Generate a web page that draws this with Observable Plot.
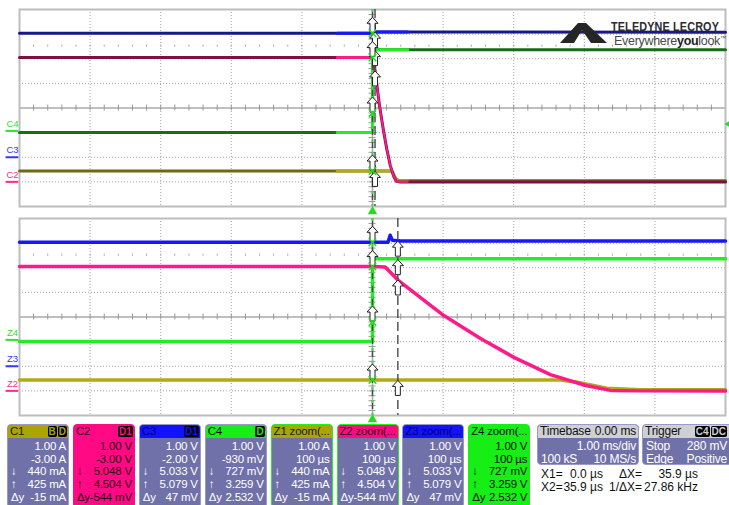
<!DOCTYPE html>
<html><head><meta charset="utf-8">
<script src="https://cdn.jsdelivr.net/npm/d3@7"></script>
<script src="https://cdn.jsdelivr.net/npm/@observablehq/plot@0.6"></script>
<style>
html,body{margin:0;padding:0;background:#fff;}
#root{position:relative;width:729px;height:505px;overflow:hidden;font-family:"Liberation Sans",Arial,sans-serif;}
.pl{position:absolute;left:0;}
.box{position:absolute;top:424px;width:62px;height:84px;box-sizing:border-box;border:1px solid #9a9ac6;border-radius:4px;background:#7171aa;color:#fff;font-size:11.5px;letter-spacing:-0.2px;overflow:hidden;}
.hdr{height:13px;line-height:13px;padding:0 0 0 2px;color:#111;white-space:nowrap;position:relative;overflow:hidden;border-radius:3px 3px 0 0;font-size:11.5px;}
.badges{position:absolute;right:1px;top:1px;display:flex;gap:1px;}
.bd{background:#000;border-radius:2px;font-size:10px;font-weight:bold;line-height:11px;height:11px;padding:0 1px;letter-spacing:0;}
.rows{margin-top:2px;}
.row{height:12.7px;line-height:12.7px;position:relative;text-align:right;padding-right:2px;white-space:nowrap;}
.row .l{position:absolute;left:3px;top:0;}
.txt{position:absolute;font-size:12px;color:#111;white-space:nowrap;line-height:13px;}
</style></head>
<body><div id="root"></div>
<script>
// ---------------- data ----------------
const channelNames = ["C1", "C2", "C3", "C4"];
const zoomNames = ["Z1", "Z2", "Z3", "Z4"];
const channelOffset = [-3, -3, -2, -0.93];   // A or V
const channelScale = [1, 1, 1, 1];          // per division
const mainTimePerDiv = 1000;                // µs per division (1.00 ms/div)
const zoomTimePerDiv = 100;                 // µs per division

// C1 (current, A)
const c1Time = [-5000, -500, 0, 266, 290, 313, 332, 380, 500, 5000];
const c1Value = [0.44, 0.44, 0.44, 0.44, 0.35, 0.22, 0.11, 0.05, 0.05, 0.05];
// C2 (V)
const c2Time = [-5000, -500, 0, 18, 36, 101, 153, 201, 252, 302, 337, 380, 500, 5000];
const c2Value = [5.05, 5.05, 5.05, 5.03, 4.50, 3.06, 2.13, 1.35, 0.66, 0.22, 0.02, 0.0, 0.0, 0.0];
// C3 (V)
const c3Time = [-5000, -500, 0, 22, 25, 28, 40, 500, 5000];
const c3Value = [5.033, 5.033, 5.033, 5.04, 5.32, 5.12, 5.09, 5.09, 5.08];
// C4 (V)
const c4Time = [-5000, -500, 0, 0, 500, 5000];
const c4Value = [-0.066, -0.066, -0.066, 3.30, 3.30, 3.30];

const cursorTimes = [0, 35.9];                         // µs
const cursorX1Values = [0.44, 5.048, 5.033, 0.727];
const cursorX2Values = [0.425, 4.504, 5.079, 3.259];
const triggerLevel = 0.28;                             // V on C4

// info boxes
const boxTitles = ["C1", "C2", "C3", "C4", "Z1 zoom(...", "Z2 zoom(...", "Z3 zoom(...", "Z4 zoom(..."];
const boxBadges = [["B", "D"], ["D1"], ["D1"], ["D"], [], [], [], []];
const boxScale = ["1.00 A", "1.00 V", "1.00 V", "1.00 V", "1.00 A", "1.00 V", "1.00 V", "1.00 V"];
const boxSecond = ["-3.00 A", "-3.00 V", "-2.00 V", "-930 mV", "100 µs", "100 µs", "100 µs", "100 µs"];
const boxDown = ["440 mA", "5.048 V", "5.033 V", "727 mV", "440 mA", "5.048 V", "5.033 V", "727 mV"];
const boxUp = ["425 mA", "4.504 V", "5.079 V", "3.259 V", "425 mA", "4.504 V", "5.079 V", "3.259 V"];
const boxDelta = ["-15 mA", "-544 mV", "47 mV", "2.532 V", "-15 mA", "-544 mV", "47 mV", "2.532 V"];
const timebaseTexts = ["Timebase", "0.00 ms", "1.00 ms/div", "100 kS", "10 MS/s"];
const triggerTexts = ["Trigger", "C4", "DC", "Stop", "280 mV", "Edge", "Positive"];
const cursorTexts = [["X1=", "0.0 µs", "ΔX=", "35.9 µs"], ["X2=", "35.9 µs", "1/ΔX=", "27.86 kHz"]];

// ---------------- styles ----------------
const darkColors = ["#6e6a12", "#7e1042", "#18188c", "#137013"];
const brightColors = ["#b2aa16", "#ff1a8a", "#1717ff", "#22ee22"];
const labelColors = ["#b2aa16", "#ff2a90", "#3535ff", "#33dd33"];
const drawOrder = [0, 3, 2, 1];

const seriesTime = [c1Time, c2Time, c3Time, c4Time];
const seriesValue = [c1Value, c2Value, c3Value, c4Value];
const toDiv = (v, i) => (v + channelOffset[i]) / channelScale[i];

const upArrow = {draw(ctx) {
  ctx.moveTo(0, -8); ctx.lineTo(5.5, -2); ctx.lineTo(2.5, -2); ctx.lineTo(2.5, 7);
  ctx.lineTo(-2.5, 7); ctx.lineTo(-2.5, -2); ctx.lineTo(-5.5, -2); ctx.closePath();
}};
const leftTri = {draw(ctx) {
  ctx.moveTo(-3, 0); ctx.lineTo(2, -3); ctx.lineTo(2, 3); ctx.closePath();
}};

function panel(isMain) {
  const perDiv = isMain ? mainTimePerDiv : zoomTimePerDiv;
  const names = isMain ? channelNames : zoomNames;
  const gridX = d3.range(-4, 5).filter(d => d !== 0);
  const gridY = d3.range(-3, 4).filter(d => d !== 0);
  const minorX = d3.range(-25, 26).map(k => k / 5);
  const minorY = d3.range(-20, 21).map(k => k / 5);
  const marks = [
    Plot.ruleX(gridX, {stroke: "#a4a4a4", strokeDasharray: "1,2", strokeWidth: 1}),
    Plot.ruleY(gridY, {stroke: "#a4a4a4", strokeDasharray: "1,2", strokeWidth: 1}),
    Plot.ruleX([0], {stroke: "#aaa", strokeWidth: 1.5}),
    Plot.ruleY([0], {stroke: "#aaa", strokeWidth: 1.5}),
    Plot.ruleX(minorX, {x: d => d, y1: () => -0.12, y2: () => 0.12, stroke: "#999"}),
    Plot.ruleY(minorY, {y: d => d, x1: () => -0.05, x2: () => 0.05, stroke: "#999"}),
    Plot.ruleX(minorX, {x: d => d, y1: () => 2.46, y2: () => 2.56, stroke: "#b4b4b4"}),
    Plot.frame({stroke: "#bdbdbd", strokeWidth: 2})
  ];
  for (const i of drawOrder) {
    const rows = seriesTime[i].map((t, k) => ({t, x: t / perDiv, y: toDiv(seriesValue[i][k], i)}));
    const inWin = rows.filter(r => Math.abs(r.t) <= 5 * zoomTimePerDiv);
    if (isMain) {
      marks.push(Plot.line(rows, {x: "x", y: "y", stroke: darkColors[i], strokeWidth: 3}));
      marks.push(Plot.line(inWin.filter(r => r.t <= 20), {x: "x", y: "y", stroke: brightColors[i], strokeWidth: 3}));
      marks.push(Plot.line(inWin.filter(r => r.t >= 0), {x: "x", y: "y", stroke: brightColors[i], strokeWidth: i === 1 ? 1.8 : 3}));
    } else {
      marks.push(Plot.line(inWin, {x: "x", y: "y", stroke: brightColors[i], strokeWidth: 3.5}));
    }
  }
  // channel ground labels
  for (const i of [3, 2, 1]) {
    const lv = toDiv(0, i);
    marks.push(Plot.ruleY([lv], {x1: () => -5.19, x2: () => -5.01, stroke: labelColors[i], strokeWidth: 2}));
    marks.push(Plot.text([names[i]], {x: () => -5, y: () => lv, text: d => d, dx: -7, dy: -7, fill: labelColors[i], fontSize: 9.5}));
  }
  // cursors
  const cx = cursorTimes.map(t => t / perDiv);
  marks.push(Plot.ruleX(cx, {stroke: "#4a4a4a", strokeDasharray: "9,4", strokeWidth: 1.4}));
  marks.push(Plot.ruleX([cx[0]], {stroke: "#33dd33", strokeDasharray: "3,10", strokeWidth: 1.4}));
  const m1 = cursorX1Values.map((v, i) => ({x: cx[0], y: toDiv(v, i)}));
  const m2 = cursorX2Values.map((v, i) => ({x: cx[1], y: toDiv(v, i)}));
  marks.push(Plot.dot(m2, {x: "x", y: "y", symbol: upArrow, r: 5, fill: "#fff", stroke: "#222", strokeWidth: 1, dy: 8}));
  marks.push(Plot.dot(m1, {x: "x", y: "y", symbol: upArrow, r: 5, fill: "#fff", stroke: "#222", strokeWidth: 1, dy: -8}));
  marks.push(Plot.dot(m1, {x: "x", y: "y", symbol: "times", r: 3.5, stroke: "#22dd22", strokeWidth: 1.5}));
  // trigger position marker
  marks.push(Plot.dot([0], {x: d => d, y: () => -4, dy: isMain ? 5 : 4, symbol: "triangle", r: 3.5, fill: "#22dd22", stroke: "none"}));
  if (isMain) {
    marks.push(Plot.dot([toDiv(triggerLevel, 3)], {x: () => 5, y: d => d, dx: 2, symbol: leftTri, r: 3, fill: "#22dd22", stroke: "none"}));
  }
  return Plot.plot({
    width: 729, height: isMain ? 214 : 208,
    marginLeft: 19, marginRight: 4,
    marginTop: isMain ? 9 : 4, marginBottom: isMain ? 8 : 7,
    x: {domain: [-5, 5], axis: null},
    y: {domain: [-4, 4], axis: null},
    style: {background: "transparent", fontFamily: "Liberation Sans, Arial, sans-serif", overflow: "visible"},
    marks
  });
}

const root = document.getElementById("root");
const top1 = panel(true); top1.classList.add("pl"); top1.style.top = "0px"; top1.style.position = "absolute";
const bot1 = panel(false); bot1.classList.add("pl"); bot1.style.top = "214px"; bot1.style.position = "absolute";
root.appendChild(bot1); root.appendChild(top1);

// logo
const logo = document.createElement("div");
logo.innerHTML = `<svg width="729" height="60" style="position:absolute;left:0;top:0">
<path d="M560,43 L578,23 L586,23 L607,43 L591,43 L582,30 L574,43 Z" fill="#262626"/></svg>
<div style="position:absolute;left:611px;top:19px;font-weight:bold;font-size:13.5px;letter-spacing:0.2px;color:#2b2b2b;transform:scaleX(0.8);transform-origin:left top;white-space:nowrap">TELEDYNE LECROY</div>
<div style="position:absolute;left:614px;top:34px;font-size:12.5px;color:#4a4a4a;white-space:nowrap;letter-spacing:-0.3px">Everywhere<b style="color:#222">you</b>look<sup style="font-size:6px">™</sup></div>`;
root.appendChild(logo);

// info boxes
const hdrColors = ["#aaa500", "#ff0a84", "#1212ff", "#16ee16", "#aaa500", "#ff0a84", "#1212ff", "#16ee16"];
const hdrText = ["#1a1a00", "#2a0010", "#00006a", "#001000", "#1a1a00", "#2a0010", "#00006a", "#001000"];
boxTitles.forEach((title, i) => {
  const b = document.createElement("div");
  b.className = "box";
  b.style.left = (7 + i * 65.9) + "px";
  const full = (i === 1 || i === 7);
  if (full) { b.style.background = hdrColors[i]; b.style.color = hdrText[i]; b.style.borderColor = hdrColors[i]; }
  if (i === 4 || i === 5) { b.style.border = "1.5px solid #22ee22"; }
  const badges = boxBadges[i].map(t => `<span class="bd" style="color:${hdrColors[i]}">${t}</span>`).join("");
  b.innerHTML = `<div class="hdr" style="background:${hdrColors[i]};color:${hdrText[i]}">${title}<div class="badges">${badges}</div></div>
  <div class="rows">
   <div class="row">${boxScale[i]}</div>
   <div class="row">${boxSecond[i]}</div>
   <div class="row"><span class="l">↓</span>${boxDown[i]}</div>
   <div class="row"><span class="l">↑</span>${boxUp[i]}</div>
   <div class="row"><span class="l">Δy</span>${boxDelta[i]}</div>
  </div>`;
  root.appendChild(b);
});

// timebase box
const tb = document.createElement("div");
tb.className = "box";
tb.style.cssText = "left:537px;width:102px;height:41px;font-size:12px;";
tb.innerHTML = `<div class="hdr" style="background:#cfcfd6;color:#111;font-size:12px">${timebaseTexts[0]}<span style="position:absolute;right:2px">${timebaseTexts[1]}</span></div>
<div class="rows"><div class="row">${timebaseTexts[2]}</div><div class="row"><span class="l">${timebaseTexts[3]}</span>${timebaseTexts[4]}</div></div>`;
root.appendChild(tb);

const tr = document.createElement("div");
tr.className = "box";
tr.style.cssText = "left:642px;width:90px;height:41px;font-size:12px;";
tr.innerHTML = `<div class="hdr" style="background:#cfcfd6;color:#111;font-size:12px">${triggerTexts[0]}<div class="badges" style="right:4px"><span class="bd" style="color:#cfcfd6">${triggerTexts[1]}</span><span class="bd" style="color:#cfcfd6">${triggerTexts[2]}</span></div></div>
<div class="rows"><div class="row" style="padding-right:4px"><span class="l">${triggerTexts[3]}</span>${triggerTexts[4]}</div><div class="row" style="padding-right:4px"><span class="l">${triggerTexts[5]}</span>${triggerTexts[6]}</div></div>`;
root.appendChild(tr);

// cursor readout
cursorTexts.forEach((r, k) => {
  const y = 468 + k * 13;
  const add = (txt, css) => { const s = document.createElement("div"); s.className = "txt"; s.textContent = txt; s.style.cssText += css + `top:${y}px;`; root.appendChild(s); };
  add(r[0], "left:541px;");
  add(r[1], "right:" + (729 - 603) + "px;");
  add(r[2], "right:" + (729 - 642) + "px;");
  add(r[3], "right:" + (729 - 698) + "px;");
});
</script></body></html>
